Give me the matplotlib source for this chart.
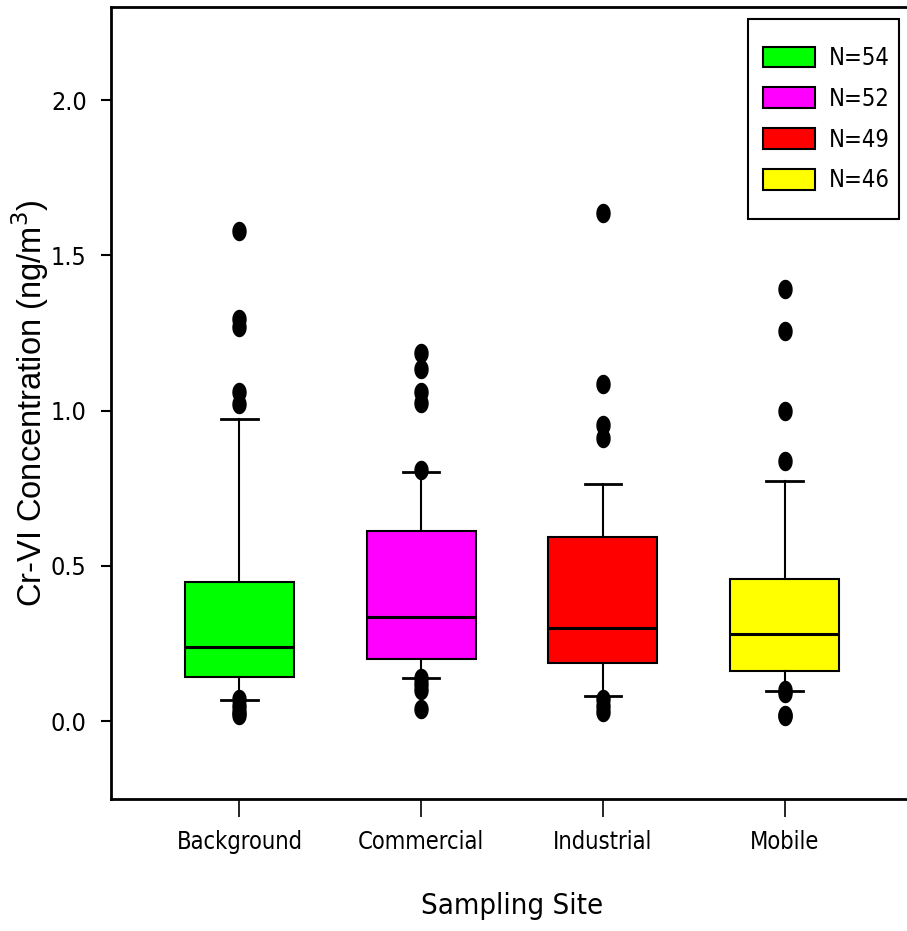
import matplotlib
matplotlib.use("Agg")
import matplotlib.pyplot as plt
from matplotlib import font_manager as fm
from matplotlib.patches import Patch, Rectangle
from matplotlib.path import Path
import numpy as np

categories = ["Background", "Commercial", "Industrial", "Mobile"]
legend_labels = ["N=54", "N=52", "N=49", "N=46"]
colors = ["#00ff00", "#ff00ff", "#ff0000", "#ffff00"]

q1 = [0.142, 0.200, 0.187, 0.161]
median = [0.238, 0.335, 0.300, 0.280]
q3 = [0.448, 0.612, 0.593, 0.457]
whisker_low = [0.068, 0.138, 0.080, 0.097]
whisker_high = [0.973, 0.802, 0.763, 0.773]
outliers_background = [1.578, 1.295, 1.270, 1.060, 1.020, 0.070, 0.050, 0.030, 0.020]
outliers_commercial = [1.185, 1.134, 1.060, 1.024, 0.810, 0.140, 0.120, 0.100, 0.040]
outliers_industrial = [1.636, 1.085, 0.953, 0.911, 0.070, 0.050, 0.030]
outliers_mobile = [1.391, 1.256, 0.998, 0.837, 0.100, 0.090, 0.020, 0.015]
outliers = [outliers_background, outliers_commercial, outliers_industrial, outliers_mobile]

yticks = [0.0, 0.5, 1.0, 1.5, 2.0]

# ---- find a condensed / narrow font if one is installed ----
def find_condensed():
    prefs = ["LiberationSansNarrow-Regular", "DejaVuSansCondensed.ttf",
             "RobotoCondensed-Regular", "OpenSans_Condensed-Regular",
             "OpenSansCondensed"]
    files = [f.fname for f in fm.fontManager.ttflist]
    for p in prefs:
        for fn in files:
            if p in fn:
                return fn
    for f in fm.fontManager.ttflist:
        if (("Narrow" in f.fname or "Condensed" in f.fname)
                and "Bold" not in f.fname and "Oblique" not in f.fname
                and "Italic" not in f.fname and "Light" not in f.fname):
            return f.fname
    return None

cond_file = find_condensed()
if cond_file:
    def fp(size):
        return fm.FontProperties(fname=cond_file, size=size)
    scale = 1.0
else:
    def fp(size):
        return fm.FontProperties(family=["Liberation Sans", "DejaVu Sans"], size=size * 0.9)
    scale = 0.9

fig = plt.figure(figsize=(9.07, 9.31), dpi=100)
ax = fig.add_axes([111/907, 1 - 799/931, (913 - 111)/907, (799 - 7)/931])

stats = []
for i in range(len(categories)):
    stats.append(dict(med=median[i], q1=q1[i], q3=q3[i],
                      whislo=whisker_low[i], whishi=whisker_high[i],
                      fliers=outliers[i], label=categories[i]))

t = np.linspace(0, 2 * np.pi, 60)
ell = Path(np.column_stack([0.72 * np.cos(t), np.sin(t)]), closed=True)

bp = ax.bxp(stats, positions=[1, 2, 3, 4], widths=0.6, patch_artist=True,
            showfliers=True,
            boxprops=dict(edgecolor="black", linewidth=1.5),
            medianprops=dict(color="black", linewidth=2.2),
            whiskerprops=dict(color="black", linewidth=1.5),
            capprops=dict(color="black", linewidth=2.0),
            capwidths=0.2,
            flierprops=dict(marker=ell, markerfacecolor="black",
                            markeredgecolor="black", markersize=13,
                            linestyle="none"))
for patch, c in zip(bp["boxes"], colors):
    patch.set_facecolor(c)

ax.set_xlim(0.293, 4.707)
ax.set_ylim(-0.251, 2.30)
ax.set_yticks(yticks)
ax.set_yticklabels([f"{v:.1f}" for v in yticks], fontproperties=fp(18))
ax.set_xticks([1, 2, 3, 4])
ax.set_xticklabels(categories, fontproperties=fp(17))
ax.tick_params(axis="y", direction="out", length=7, width=1.5, pad=10.5)
ax.tick_params(axis="x", direction="out", length=13, width=1.2, pad=9)
for s in ax.spines.values():
    s.set_linewidth(2)

ax.set_ylabel("Cr-VI Concentration (ng/m$^3$)", fontsize=23.5,
              family=["Liberation Sans", "DejaVu Sans"])
ax.yaxis.set_label_coords((51 - 111) / 802, 0.5)
ax.set_xlabel("Sampling Site", fontproperties=fp(21))
ax.xaxis.set_label_coords(0.5, (799 - 892) / 792)

# legend frame (drawn as a figure rectangle) and legend entries
fig.patches.append(Rectangle((748/907, 1 - 219/931), (899 - 748)/907, 200/931,
                             transform=fig.transFigure, facecolor="white",
                             edgecolor="black", linewidth=1.5, zorder=3))
handles = [Patch(facecolor=c, edgecolor="black", linewidth=1.5) for c in colors]
lfs = 17 * scale
lpx = lfs * 100 / 72
leg = fig.legend(handles, legend_labels, loc="upper left",
                 bbox_to_anchor=(763/907, 1 - 46/931),
                 frameon=False, prop=fp(17),
                 handlelength=52 / lpx, handleheight=23 / lpx,
                 labelspacing=0.71, handletextpad=14 / lpx,
                 borderpad=0, borderaxespad=0)
leg.set_zorder(4)

fig.savefig("out.png", dpi=100)
